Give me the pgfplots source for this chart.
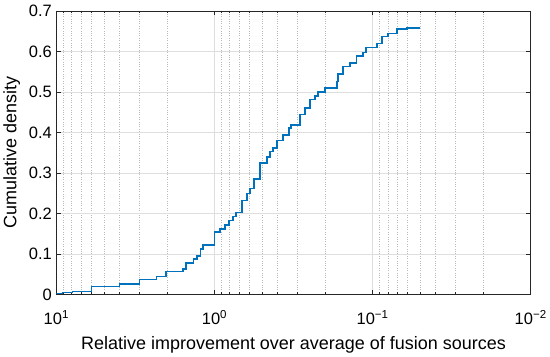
\documentclass[border=0pt]{standalone}
\usepackage{pgfplots}
\pgfplotsset{compat=1.18}
\usepackage{fontspec}
\setmainfont{Liberation Sans}
\definecolor{mblue}{RGB}{0,114,189}
\definecolor{gridc}{RGB}{222,222,222}
\definecolor{axc}{RGB}{38,38,38}
\begin{document}
\begin{tikzpicture}
\begin{axis}[
  scale only axis,
  width=475pt, height=284pt,
  xmode=log, x dir=reverse,
  xmin=0.01, xmax=10,
  ymin=0, ymax=0.7,
  xtick={10,1,0.1,0.01},
  minor xtick={2,3,4,5,6,7,8,9,0.2,0.3,0.4,0.5,0.6,0.7,0.8,0.9,0.02,0.03,0.04,0.05,0.06,0.07,0.08,0.09},
  xticklabels={10\textsuperscript{1},10\textsuperscript{0},10\textsuperscript{\textminus1},10\textsuperscript{\textminus2}},
  ytick={0,0.1,0.2,0.3,0.4,0.5,0.6,0.7},
  yticklabel style={/pgf/number format/fixed,/pgf/number format/precision=1,/pgf/number format/assume math mode=true, xshift=-1pt},
  tick label style={font=\fontsize{16.5}{19}\selectfont, text=black},
  xticklabel style={yshift=-12pt},
  label style={font=\fontsize{18}{21}\selectfont},
  xlabel={Relative improvement over average of fusion sources},
  ylabel={Cumulative density},
  ylabel style={yshift=2pt},
  xlabel style={yshift=-5pt},
  tick align=inside,
  major tick length=4.5pt,
  minor tick length=2.5pt,
  axis line style={axc, line width=0.8pt},
  every tick/.style={axc, line width=0.7pt},
  xmajorgrids, xminorgrids, ymajorgrids,
  major grid style={gridc, line width=0.8pt},
  minor grid style={gray!55, dotted, line width=0.7pt},
]
\addplot[const plot, mblue, line width=1.5pt] coordinates {
(10,0.003) (9.16,0.005) (7.92,0.008) (6.01,0.020) (4.0,0.026) (2.99,0.037)
(2.33,0.045) (2.02,0.057) (1.58,0.063) (1.51,0.078) (1.36,0.088) (1.29,0.095)
(1.23,0.113) (1.18,0.122) (1.0,0.155) (0.92,0.162) (0.857,0.172) (0.808,0.183)
(0.762,0.193) (0.730,0.203) (0.668,0.232) (0.622,0.250) (0.595,0.262) (0.561,0.285)
(0.515,0.325) (0.465,0.340) (0.445,0.353) (0.425,0.362) (0.402,0.380) (0.368,0.394)
(0.337,0.411) (0.328,0.418) (0.288,0.444) (0.267,0.460) (0.249,0.481) (0.231,0.490)
(0.221,0.500) (0.200,0.510) (0.168,0.526) (0.166,0.545) (0.154,0.563) (0.139,0.572)
(0.126,0.589) (0.115,0.597) (0.110,0.610) (0.094,0.620) (0.0873,0.637) (0.080,0.645)
(0.0702,0.655) (0.0607,0.658) (0.0509,0.660)
};
\end{axis}
\path ([yshift=11pt]current axis.north);
\end{tikzpicture}
\end{document}
